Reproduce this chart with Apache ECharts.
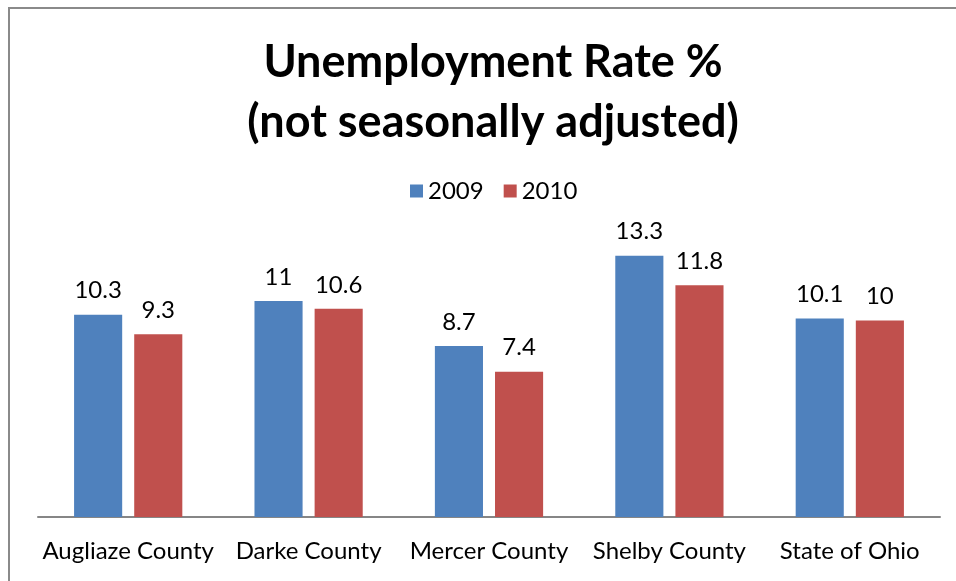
<!DOCTYPE html>
<html><head><meta charset="utf-8">
<script src="https://cdn.jsdelivr.net/npm/echarts@6/dist/echarts.min.js"></script>
<style>html,body{margin:0;padding:0;background:#fff}#c{width:956px;height:581px}</style>
</head><body><div id="c"></div>
<script>
var categories = ['Augliaze County', 'Darke County', 'Mercer County', 'Shelby County', 'State of Ohio'];
var seriesNames = ['2009', '2010'];
var values2009 = [10.3, 11, 8.7, 13.3, 10.1];
var values2010 = [9.3, 10.6, 7.4, 11.8, 10];
var titleText = 'Unemployment Rate %\n(not seasonally adjusted)';

var FONT = 'Lato';
var chart = echarts.init(document.getElementById('c'), null, {renderer: 'canvas'});
var labelCfg = {show: true, position: 'top', distance: 12, color: '#000', fontSize: 24, fontFamily: FONT};
chart.setOption({
  animation: false,
  backgroundColor: '#fff',
  graphic: [{type: 'rect', shape: {x: 9, y: 8, width: 1000, height: 1000}, style: {fill: 'none', stroke: '#8a8a8a', lineWidth: 2}}],
  title: {text: titleText, left: 488, textAlign: 'center', top: 27, textStyle: {fontFamily: FONT, fontWeight: 'bold', fontSize: 45, lineHeight: 60, color: '#000'}},
  legend: {data: seriesNames, top: 174, left: 405, itemWidth: 13, itemHeight: 13, itemGap: 20, icon: 'rect',
    textStyle: {fontFamily: FONT, fontSize: 24, color: '#000'}},
  grid: {left: 38, right: 16, top: 242, bottom: 64, containLabel: false},
  xAxis: {type: 'category', data: categories, axisLine: {lineStyle: {color: '#868686', width: 2}}, axisTick: {show: false},
    axisLabel: {color: '#000', fontSize: 24, fontFamily: FONT, margin: 22, interval: 0}},
  yAxis: {type: 'value', min: 0, max: 14, show: false, splitLine: {show: false}},
  series: [
    {name: seriesNames[0], type: 'bar', data: values2009, itemStyle: {color: '#4f81bd'}, barGap: '25%', barCategoryGap: '40%', label: labelCfg},
    {name: seriesNames[1], type: 'bar', data: values2010, itemStyle: {color: '#c0504d'}, label: labelCfg}
  ]
});
</script></body></html>
